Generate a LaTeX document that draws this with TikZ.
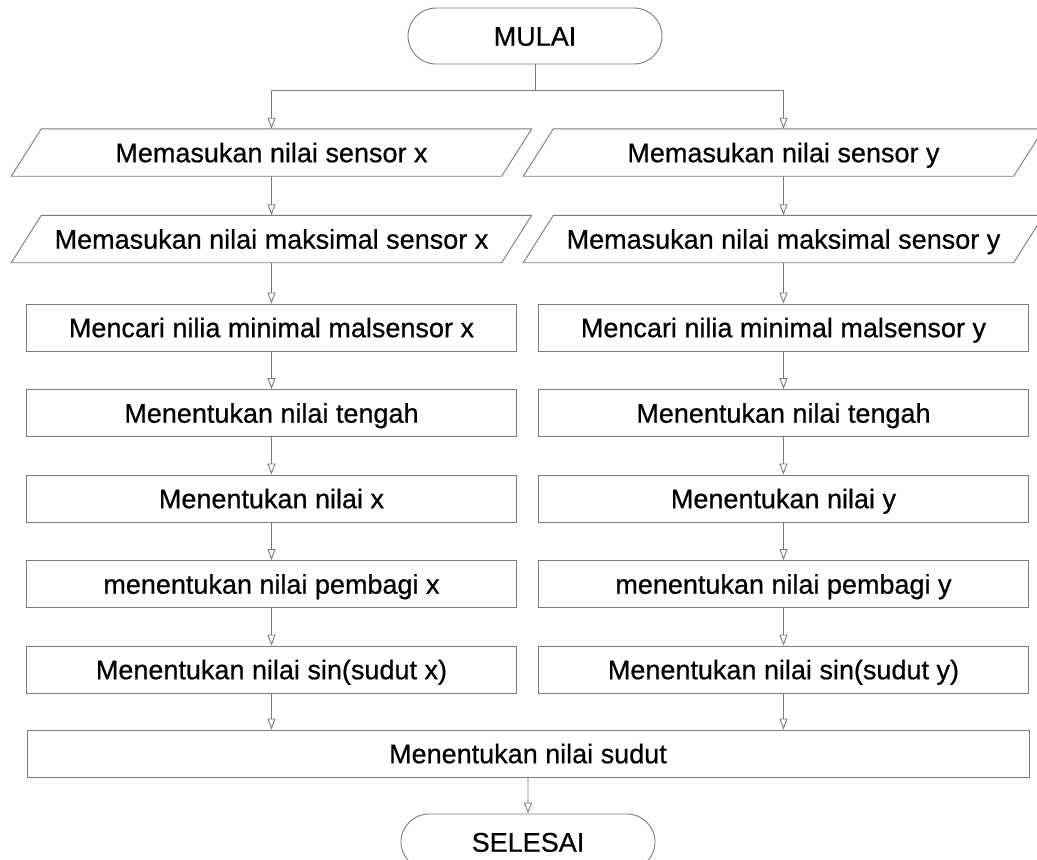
\documentclass[tikz,border=0pt]{standalone}
\usepackage{fontspec}
\setmainfont[FakeBold=0.6]{Liberation Sans}
\usetikzlibrary{arrows.meta,shapes.misc}
\definecolor{lc}{HTML}{7A7A7A}
\tikzset{
  txt/.style={font=\fontsize{27}{31}\selectfont, text=black, inner sep=0pt, text height=19.4pt, text depth=0pt},
  term/.style={txt, draw=lc, line width=0.9pt, rounded rectangle, minimum width=254pt, minimum height=56pt},
  io/.style={txt, minimum width=490pt, minimum height=47pt},
  proc/.style={txt, draw=lc, line width=0.9pt, rectangle, minimum width=490pt, minimum height=47pt},
  para/.style={draw=lc, line width=0.9pt},
  arr/.style={draw=lc, line width=0.9pt, -{Triangle[open, length=11pt, width=8pt]}},
  ln/.style={draw=lc, line width=0.9pt}
}
\begin{document}
\begin{tikzpicture}[x=1pt,y=-1pt]
\useasboundingbox (0,0) rectangle (1037,860);
\node[term] (mulai) at (535,36) {MULAI};
\coordinate (split) at (535,90);
% input rows
\node[io] (ix1) at (271.5,152.5) {Memasukan nilai sensor x};
\node[io] (iy1) at (783.5,152.5) {Memasukan nilai sensor y};
\node[io] (ix2) at (271.5,239) {Memasukan nilai maksimal sensor x};
\node[io] (iy2) at (783.5,239) {Memasukan nilai maksimal sensor y};
\foreach \n in {ix1,iy1,ix2,iy2}{
  \draw[para] ([xshift=-15pt]\n.south west) -- ([xshift=-15pt]\n.south east)
    -- ([xshift=15pt]\n.north east) -- ([xshift=15pt]\n.north west) -- cycle;
}
% process rows
\node[proc] (x3) at (271.5,327.5) {Mencari nilia minimal malsensor x};
\node[proc] (y3) at (783.5,327.5) {Mencari nilia minimal malsensor y};
\node[proc] (x4) at (271.5,413) {Menentukan nilai tengah};
\node[proc] (y4) at (783.5,413) {Menentukan nilai tengah};
\node[proc] (x5) at (271.5,498.5) {Menentukan nilai x};
\node[proc] (y5) at (783.5,498.5) {Menentukan nilai y};
\node[proc] (x6) at (271.5,584) {menentukan nilai pembagi x};
\node[proc] (y6) at (783.5,584) {menentukan nilai pembagi y};
\node[proc] (x7) at (271.5,669.5) {Menentukan nilai sin(sudut x)};
\node[proc] (y7) at (783.5,669.5) {Menentukan nilai sin(sudut y)};
\node[proc, minimum width=1002pt] (sudut) at (528,753.5) {Menentukan nilai sudut};
\node[term] (selesai) at (528,842) {SELESAI};
% connectors
\draw[ln] (mulai.south) -- (split);
\draw[arr] (split) -| (ix1.north);
\draw[arr] (split) -| (iy1.north);
\draw[arr] (ix1) -- (ix2);
\draw[arr] (iy1) -- (iy2);
\draw[arr] (ix2) -- (x3);
\draw[arr] (iy2) -- (y3);
\draw[arr] (x3) -- (x4);
\draw[arr] (y3) -- (y4);
\draw[arr] (x4) -- (x5);
\draw[arr] (y4) -- (y5);
\draw[arr] (x5) -- (x6);
\draw[arr] (y5) -- (y6);
\draw[arr] (x6) -- (x7);
\draw[arr] (y6) -- (y7);
\draw[arr] (x7.south) -- (x7.south |- sudut.north);
\draw[arr] (y7.south) -- (y7.south |- sudut.north);
\draw[arr] (sudut) -- (selesai);
\end{tikzpicture}
\end{document}
